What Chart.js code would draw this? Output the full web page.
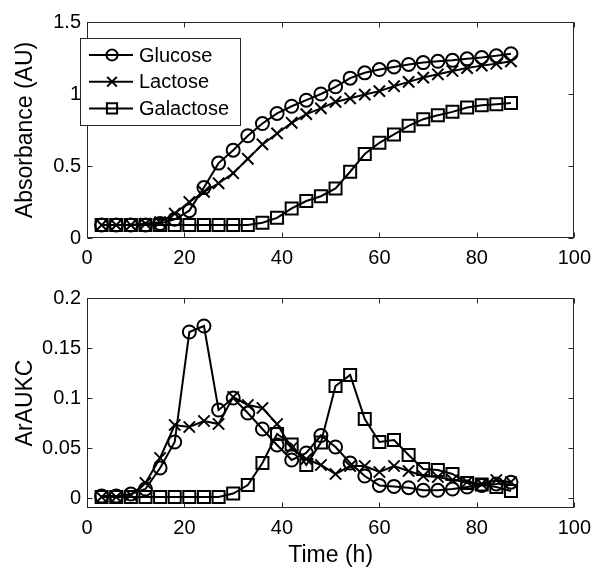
<!DOCTYPE html>
<html>
<head>
<meta charset="UTF-8">
<title>Absorbance / ArAUKC</title>
<script src="https://cdn.jsdelivr.net/npm/chart.js"></script>
<style>
  body { margin: 0; background: #fff; }
  #wrap { position: relative; width: 599px; height: 569px; }
  #wrap canvas { position: absolute; left: 0; }
</style>
</head>
<body>
<div id="wrap">
  <canvas id="absChart" width="599" height="280" style="top:0"></canvas>
  <canvas id="kcChart" width="599" height="289" style="top:280px"></canvas>
</div>
<script>
// sampling times (h)
const hours = [3, 6, 9, 12, 15, 18, 21, 24, 27, 30, 33, 36, 39, 42, 45, 48, 51, 54, 57, 60, 63, 66, 69, 72, 75, 78, 81, 84, 87];

// top panel: absorbance
const glucoseAbs = [0.09, 0.09, 0.09, 0.09, 0.10, 0.13, 0.19, 0.35, 0.52, 0.61, 0.71, 0.795, 0.865, 0.915, 0.957, 1.0, 1.05, 1.11, 1.147, 1.17, 1.188, 1.205, 1.218, 1.227, 1.234, 1.244, 1.253, 1.265, 1.28];
const lactoseAbs = [0.09, 0.09, 0.09, 0.10, 0.11, 0.17, 0.25, 0.32, 0.38, 0.45, 0.55, 0.65, 0.726, 0.80, 0.86, 0.90, 0.945, 0.97, 0.996, 1.02, 1.054, 1.084, 1.114, 1.137, 1.16, 1.18, 1.197, 1.21, 1.227];
const galactoseAbs = [0.09, 0.09, 0.09, 0.09, 0.09, 0.09, 0.09, 0.09, 0.09, 0.09, 0.09, 0.106, 0.14, 0.205, 0.257, 0.29, 0.344, 0.46, 0.583, 0.661, 0.719, 0.779, 0.825, 0.853, 0.876, 0.906, 0.922, 0.929, 0.938];

// bottom panel: ArAUKC
const glucoseKc = [0.002, 0.002, 0.004, 0.009, 0.03, 0.056, 0.166, 0.172, 0.088, 0.1, 0.085, 0.069, 0.053, 0.038, 0.045, 0.0625, 0.051, 0.035, 0.022, 0.0126, 0.0116, 0.0103, 0.0077, 0.0077, 0.009, 0.011, 0.0126, 0.014, 0.0158];
const lactoseKc = [0.001, 0.001, 0.003, 0.015, 0.04, 0.073, 0.071, 0.077, 0.074, 0.101, 0.093, 0.09, 0.074, 0.05, 0.039, 0.033, 0.024, 0.032, 0.032, 0.026, 0.032, 0.027, 0.022, 0.021, 0.018, 0.016, 0.014, 0.018, 0.016];
const galactoseKc = [0.001, 0.001, 0.001, 0.001, 0.001, 0.001, 0.001, 0.001, 0.001, 0.0045, 0.013, 0.035, 0.064, 0.0535, 0.033, 0.0555, 0.112, 0.123, 0.079, 0.056, 0.058, 0.043, 0.029, 0.028, 0.024, 0.015, 0.0135, 0.011, 0.007];

const seriesNames = ['Glucose', 'Lactose', 'Galactose'];
const timeTicks = [0, 20, 40, 60, 80, 100];
const absTicks = [0, 0.5, 1, 1.5];
const kcTicks = [0, 0.05, 0.1, 0.15, 0.2];

const FONT = '"Liberation Sans", Arial, sans-serif';
const markerStyle = [
  { pointStyle: 'circle', pointRadius: 6.5 },
  { pointStyle: 'crossRot', pointRadius: 8 },
  { pointStyle: 'rect', pointRadius: 8.5 }
];

function makeSets(series) {
  return series.map((vals, i) => ({
    label: seriesNames[i],
    data: hours.map((h, j) => ({ x: h, y: vals[j] })),
    borderColor: '#000',
    borderWidth: 2,
    pointStyle: markerStyle[i].pointStyle,
    pointRadius: markerStyle[i].pointRadius,
    pointBorderWidth: 2,
    pointBorderColor: '#000',
    pointBackgroundColor: 'rgba(0,0,0,0)',
    tension: 0
  }));
}

// matlab style box with inward ticks on all four sides
const boxTicks = {
  id: 'boxTicks',
  afterDraw(chart) {
    const { ctx, chartArea: a, scales } = chart;
    const L = Math.round(a.left) + 0.5, R = Math.round(a.right) - 0.5;
    const T = Math.round(a.top) + 0.5, B = Math.round(a.bottom) - 0.5;
    ctx.save();
    ctx.strokeStyle = '#262626';
    ctx.lineWidth = 1;
    ctx.strokeRect(L, T, R - L, B - T);
    ctx.beginPath();
    scales.x.ticks.forEach(t => {
      const px = Math.round(scales.x.getPixelForValue(t.value)) + 0.5;
      ctx.moveTo(px, B); ctx.lineTo(px, B - 5);
      ctx.moveTo(px, T); ctx.lineTo(px, T + 5);
    });
    scales.y.ticks.forEach(t => {
      const py = Math.round(scales.y.getPixelForValue(t.value)) + 0.5;
      ctx.moveTo(L, py); ctx.lineTo(L + 5, py);
      ctx.moveTo(R, py); ctx.lineTo(R - 5, py);
    });
    ctx.stroke();
    ctx.restore();
  }
};

// legend box in the upper left of the top panel
const boxLegend = {
  id: 'boxLegend',
  afterDraw(chart) {
    const ctx = chart.ctx;
    const x0 = 80, y0 = 38, w = 160, h = 87;
    ctx.save();
    ctx.fillStyle = '#fff';
    ctx.fillRect(x0, y0, w, h);
    ctx.strokeStyle = '#262626';
    ctx.lineWidth = 1;
    ctx.strokeRect(x0 + 0.5, y0 + 0.5, w, h);
    chart.data.datasets.forEach((ds, i) => {
      const y = y0 + 17 + i * 26.7;
      ctx.strokeStyle = '#000';
      ctx.lineWidth = 2;
      ctx.beginPath();
      ctx.moveTo(89, y); ctx.lineTo(133, y);
      ctx.stroke();
      ctx.fillStyle = 'rgba(0,0,0,0)';
      Chart.helpers.drawPoint(ctx, {
        pointStyle: ds.pointStyle, radius: ds.pointRadius * 0.85, borderWidth: 2, rotation: 0
      }, 112, y);
      ctx.fillStyle = '#000';
      ctx.font = '20px ' + FONT;
      ctx.textBaseline = 'middle';
      ctx.textAlign = 'left';
      ctx.fillText(ds.label, 139, y + 1);
    });
    ctx.restore();
  }
};

function axisOpts(opts) {
  return Object.assign({
    type: 'linear',
    grid: { display: false, drawTicks: false },
    border: { display: false }
  }, opts);
}

function makeChart(id, series, yMin, yMax, yTicks, yTitle, xTitle, xHeight, padTop, extra) {
  return new Chart(document.getElementById(id), {
    type: 'line',
    data: { datasets: makeSets(series) },
    options: {
      responsive: false,
      animation: false,
      layout: { padding: { top: padTop, right: 19, left: 0, bottom: 0 } },
      plugins: { legend: { display: false }, tooltip: { enabled: false } },
      scales: {
        x: axisOpts({
          min: 0, max: 100,
          afterBuildTicks: s => { s.ticks = timeTicks.map(v => ({ value: v })); },
          afterFit: s => { s.height = xHeight; },
          ticks: { color: '#000', font: { family: FONT, size: 20 }, padding: 8, maxRotation: 0,
                   callback: v => String(v) },
          title: { display: !!xTitle, text: xTitle, color: '#000',
                   font: { family: FONT, size: 23 }, padding: { top: 0, bottom: 0 } }
        }),
        y: axisOpts({
          min: yMin, max: yMax,
          afterBuildTicks: s => { s.ticks = yTicks.map(v => ({ value: v })); },
          afterFit: s => { s.width = 87; },
          ticks: { color: '#000', font: { family: FONT, size: 20 }, padding: 6,
                   callback: v => String(v) },
          title: { display: true, text: yTitle, color: '#000',
                   font: { family: FONT, size: 23 }, padding: { top: 12, bottom: 0 } }
        })
      }
    },
    plugins: [boxTicks].concat(extra)
  });
}

makeChart('absChart', [glucoseAbs, lactoseAbs, galactoseAbs], 0, 1.5, absTicks,
  'Absorbance (AU)', '', 42, 22, [boxLegend]);
makeChart('kcChart', [glucoseKc, lactoseKc, galactoseKc], -0.01, 0.2, kcTicks,
  'ArAUKC', 'Time (h)', 61, 11, []);
</script>
</body>
</html>
